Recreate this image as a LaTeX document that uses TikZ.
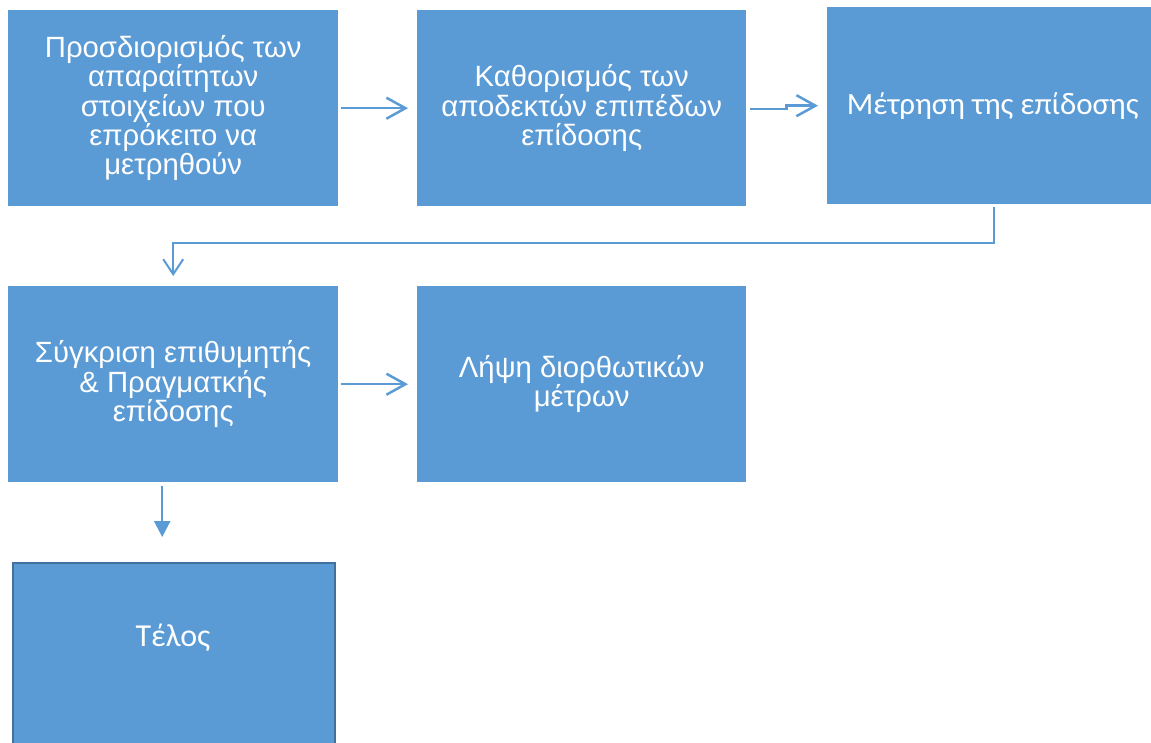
\documentclass[tikz,border=0pt]{standalone}
\usepackage{fontspec}
\setmainfont{Liberation Sans}
\newfontfamily\calib{Carlito}
\usetikzlibrary{arrows.meta}
\definecolor{boxblue}{HTML}{5B9BD5}
\definecolor{edgeblue}{HTML}{41719C}
\begin{document}
\begin{tikzpicture}[x=1pt,y=-1pt,
  blk/.style={draw=none, fill=boxblue, text=white, align=center, inner sep=0pt,
    anchor=north west, minimum width=330pt, minimum height=196pt,
    font=\fontsize{29.3}{29.3}\selectfont},
  conn/.style={draw=boxblue, line width=2.5pt, -{Straight Barb[length=19pt,width=21pt,line width=2.5pt]}},
  conn2/.style={draw=boxblue, line width=2pt, -{Straight Barb[length=15pt,width=20pt,line width=2pt]}},
  conn3/.style={draw=boxblue, line width=2.5pt, -{Triangle[length=16pt,width=16pt]}},
]
\useasboundingbox (0,0) rectangle (1151,742);
\clip (0,0) rectangle (1151,742);
\fill[white] (0,0) rectangle (1151,742);

\node[blk] (b1) at (8,10) {Προσδιορισμός των\\απαραίτητων\\στοιχείων που\\επρόκειτο να\\μετρηθούν};
\node[blk, minimum width=329pt] (b2) at (417,10) {Καθορισμός των\\αποδεκτών επιπέδων\\επίδοσης};
\node[blk, minimum width=326pt, minimum height=197pt, font=\calib\fontsize{31}{31}\selectfont] (b3) at (827,7) {\hspace*{5pt}Μέτρηση της επίδοσης};
\node[blk] (b4) at (8,286) {Σύγκριση επιθυμητής\\\& Πραγματκής\\επίδοσης};
\node[blk, minimum width=329pt] (b5) at (417,286) {Λήψη διορθωτικών\\μέτρων};
\node[blk, draw=edgeblue, line width=2pt, minimum width=322pt, minimum height=200pt] (b6) at (12,562) {};
\node[text=white, font=\calib\fontsize{32}{34}\selectfont] (b6t) at (173,638) {Τέλος};

\draw[conn, shorten <=3pt, shorten >=9pt] (b1.east) -- (b2.west);
\draw[conn, shorten <=4pt, shorten >=9pt] ([yshift=-1pt]b2.east) -- ++(40,0) |- (b3.west);
\draw[conn2, shorten <=3pt, shorten >=10pt] ([xshift=4pt]b3.south) -- ++(0,39) -| (b4.north);
\draw[conn, shorten <=3pt, shorten >=9pt] (b4.east) -- (b5.west);
\draw[conn3, shorten <=4pt, shorten >=25pt] ([xshift=-11pt]b4.south) -- ([xshift=-11pt]b4.south |- b6.north);
\end{tikzpicture}
\end{document}
